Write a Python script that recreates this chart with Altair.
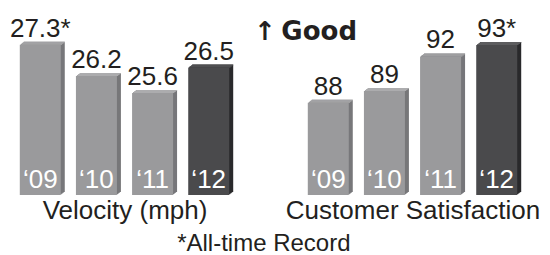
import altair as alt
import pandas as pd

years = ["\u201809", "\u201810", "\u201811", "\u201812"]
velocity = [27.3, 26.2, 25.6, 26.5]
velocity_labels = ["27.3*", "26.2", "25.6", "26.5"]
satisfaction = [88, 89, 92, 93]
satisfaction_labels = ["88", "89", "92", "93*"]
current_year = [False, False, False, True]
velocity_domain = [22, 28.6]
satisfaction_domain = [80, 96.2]

FONT = "Liberation Sans"
INK = "#231f20"
FRONT = ("#4a4a4c", "#9a9a9c")
SIDE = ("#2a2a2c", "#77777a")
TOP = ("#5c5c5e", "#acacae")


def cond(pair):
    return alt.condition("datum.current", alt.value(pair[0]), alt.value(pair[1]))


def panel(values, labels, domain, title):
    df = pd.DataFrame({"year": years, "value": values, "label": labels, "current": current_year})
    base = alt.Chart(df)
    x = alt.X("year:N", sort=years,
              scale=alt.Scale(paddingInner=0.27, paddingOuter=0.21),
              axis=alt.Axis(title=title, labels=False, ticks=False, domain=False, grid=False,
                            titleFont=FONT, titleFontSize=26, titleFontWeight="normal",
                            titleColor=INK, titlePadding=2))
    y = alt.Y("value:Q", scale=alt.Scale(domain=domain, nice=False, zero=False), axis=None)
    y2 = alt.datum(domain[0])
    layers = []
    for k in [4, 3, 2, 1]:
        layers.append(base.mark_bar(xOffset=k, yOffset=-0.75 * k, y2Offset=-0.75 * k)
                      .encode(x=x, y=y, y2=y2, color=cond(SIDE)))
    for j in [2, 1, 0]:
        layers.append(base.mark_bar(xOffset=(j + 1) * 4 / 3, yOffset=-(j + 1), y2Offset=-j)
                      .encode(x=x, y=y, y2=alt.Y2("value:Q"), color=cond(TOP)))
    layers.append(base.mark_bar().encode(x=x, y=y, y2=y2, color=cond(FRONT)))
    layers.append(base.mark_text(font=FONT, fontSize=26, baseline="alphabetic", dy=-8, color=INK)
                  .encode(x=x, y=y, text="label:N"))
    layers.append(base.mark_text(font=FONT, fontSize=26, baseline="alphabetic", dy=-7, color="white")
                  .encode(x=x, y=alt.datum(domain[0]), text="year:N"))
    return alt.layer(*layers).properties(width=233, height=187)


left = panel(velocity, velocity_labels, velocity_domain, "Velocity (mph)")
right = panel(satisfaction, satisfaction_labels, satisfaction_domain, "Customer Satisfaction").properties(
    title=alt.TitleParams("\u2191\u2009Good", anchor="start", orient="top", offset=-37, dx=-31,
                          fontSize=26, fontWeight="bold", font="DejaVu Sans", color=INK)
)

chart = alt.hconcat(left, right, spacing=55, bounds="flush").properties(
    title=alt.TitleParams("*All-time Record", orient="bottom", anchor="middle", fontSize=24,
                          fontWeight="normal", font=FONT, color=INK, offset=9, dx=-10),
    padding=0,
).configure_view(stroke=None)

chart.save("out.html", embed_options={"renderer": "svg", "actions": False})
